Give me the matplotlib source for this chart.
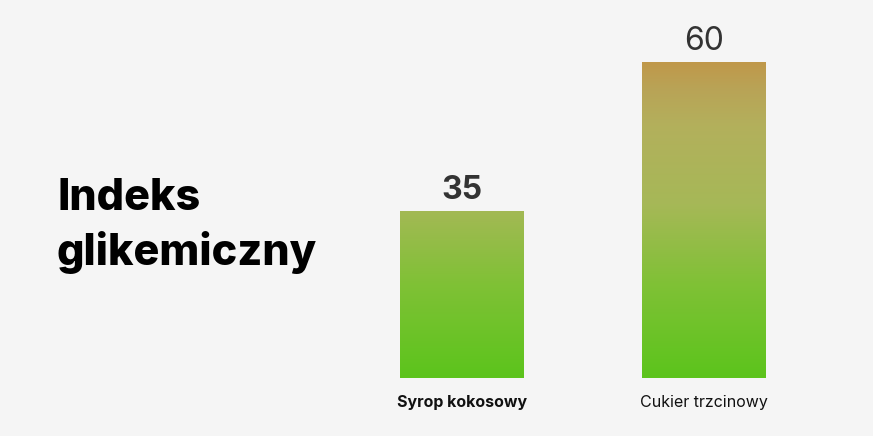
import matplotlib
matplotlib.use("Agg")
import matplotlib.pyplot as plt
import numpy as np
from matplotlib.colors import LinearSegmentedColormap

categories = ["Syrop kokosowy", "Cukier trzcinowy"]
values = [35, 60]
value_labels = ["35", "60"]
title_lines = ["Indeks", "glikemiczny"]

BG = "#f5f5f5"
fig = plt.figure(figsize=(8.73, 4.36), dpi=100, facecolor=BG)
ax = fig.add_axes([316.8/873, 58/436, 532.4/873, 345.7/436])
ax.set_facecolor(BG)
ymin, ymax = 7, 65
ax.set_xlim(-0.6, 1.6)
ax.set_ylim(ymin, ymax)
for s in ax.spines.values():
    s.set_visible(False)
ax.set_xticks([]); ax.set_yticks([])

x = np.arange(len(values))
bars = ax.bar(x, values, width=0.512, color="none", edgecolor="none")

cmap = LinearSegmentedColormap.from_list("g", [
    (0.0, "#5cc41c"),
    (0.3, "#80c136"),
    (0.55, "#a6b857"),
    (0.8, "#b3b05c"),
    (0.92, "#b9a356"),
    (1.0, "#c0984a"),
])
grad = np.linspace(0, 1, 256).reshape(-1, 1)
for b in bars:
    im = ax.imshow(grad, cmap=cmap, origin="lower", aspect="auto",
                   extent=[-0.6, 1.6, ymin, max(values)], zorder=1)
    im.set_clip_path(b)
ax.set_xlim(-0.6, 1.6)
ax.set_ylim(ymin, ymax)

weights = ["bold", "normal"]
for i, (xi, v) in enumerate(zip(x, values)):
    ax.text(xi, v + 0.9, value_labels[i], ha="center", va="bottom",
            fontsize=23, color="#333333", fontweight=weights[i], family="Inter")
    ax.text(xi, ymin - 2.9, categories[i], ha="center", va="top",
            fontsize=11.5, color="#111111", fontweight=weights[i], family="Inter")

fig.text(57/873, 1 - 198/436, title_lines[0], ha="left", va="center",
         fontsize=31, fontweight=800, color="#000000", family="Inter")
fig.text(57/873, 1 - 252/436, title_lines[1], ha="left", va="center",
         fontsize=31, fontweight=800, color="#000000", family="Inter")

fig.savefig("out.png", dpi=100, facecolor=BG)
